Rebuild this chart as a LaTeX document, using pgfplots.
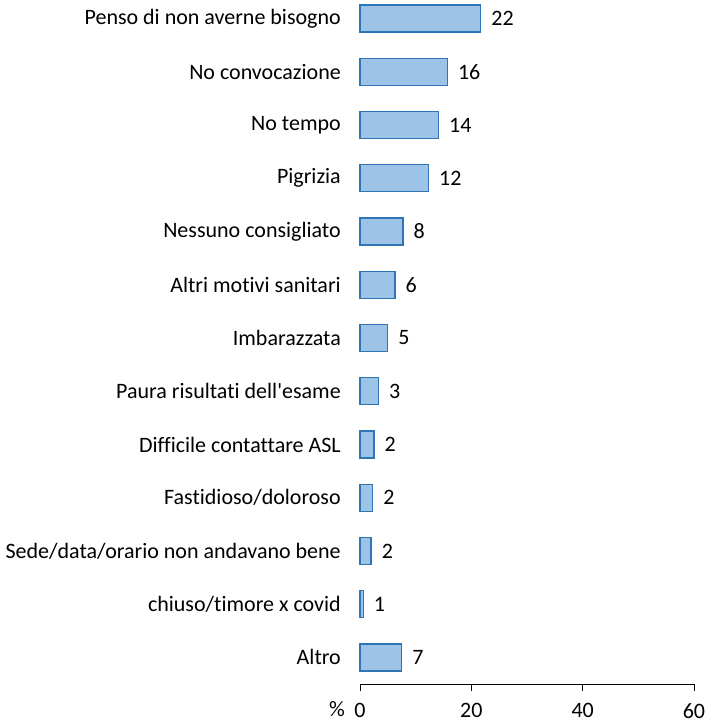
\documentclass[border=0pt]{standalone}
\usepackage{pgfplots}
\pgfplotsset{compat=1.18}
\usepackage{fontspec}
\setmainfont{Carlito}[RawFeature=-liga]
\definecolor{barfill}{RGB}{157,195,230}
\definecolor{barline}{RGB}{46,117,182}
\begin{document}
\begin{tikzpicture}
\begin{axis}[
  name=a,
  scale only axis,
  width=334bp, height=684bp,
  xmin=0, xmax=60,
  ymin=-0.35, ymax=12.5,
  y dir=reverse,
  xbar, bar width=27bp,
  font=\fontsize{22bp}{26bp}\selectfont,
  /pgf/number format/assume math mode=true,
  axis x line*=bottom,
  axis y line*=left,
  y axis line style={draw=none},
  y tick style={draw=none},
  xtick={0,20,40,60},
  xtick align=outside,
  x tick style={black, line width=0.8bp},
  x axis line style={black, line width=0.8bp, -},
  major tick length=7bp,
  xticklabel style={inner sep=0pt, anchor=north, yshift=-12bp},
  ytick={0,...,12},
  yticklabels={Penso di non averne bisogno,No convocazione,No tempo,Pigrizia,Nessuno consigliato,Altri motivi sanitari,Imbarazzata,Paura risultati dell\textquotesingle esame,Difficile contattare ASL,Fastidioso/doloroso,Sede/data/orario non andavano bene,chiuso/timore x covid,Altro},
  yticklabel style={inner sep=0pt, anchor=east, xshift=-12bp},
  xlabel={\%},
  xlabel style={at={(axis description cs:0,0)}, anchor=base east, inner sep=0pt, xshift=-15bp, yshift=-32bp},
  nodes near coords,
  point meta=explicit symbolic,
  every node near coord/.style={anchor=west, inner sep=0pt, xshift=10bp, black},
  clip=false,
]
\addplot[fill=barfill, draw=barline, line width=1.3bp] table[x=v, y=i, meta=lab] {
i v lab
0 21.7 22
1 15.7 16
2 14.1 14
3 12.3 12
4 7.7 8
5 6.3 6
6 5.0 5
7 3.3 3
8 2.5 2
9 2.3 2
10 2.0 2
11 0.6 1
12 7.5 7
};
\end{axis}
\path (a.south west) ++(-360bp,-42bp);
\path (a.north east) ++(21bp,0bp);
\end{tikzpicture}
\end{document}
